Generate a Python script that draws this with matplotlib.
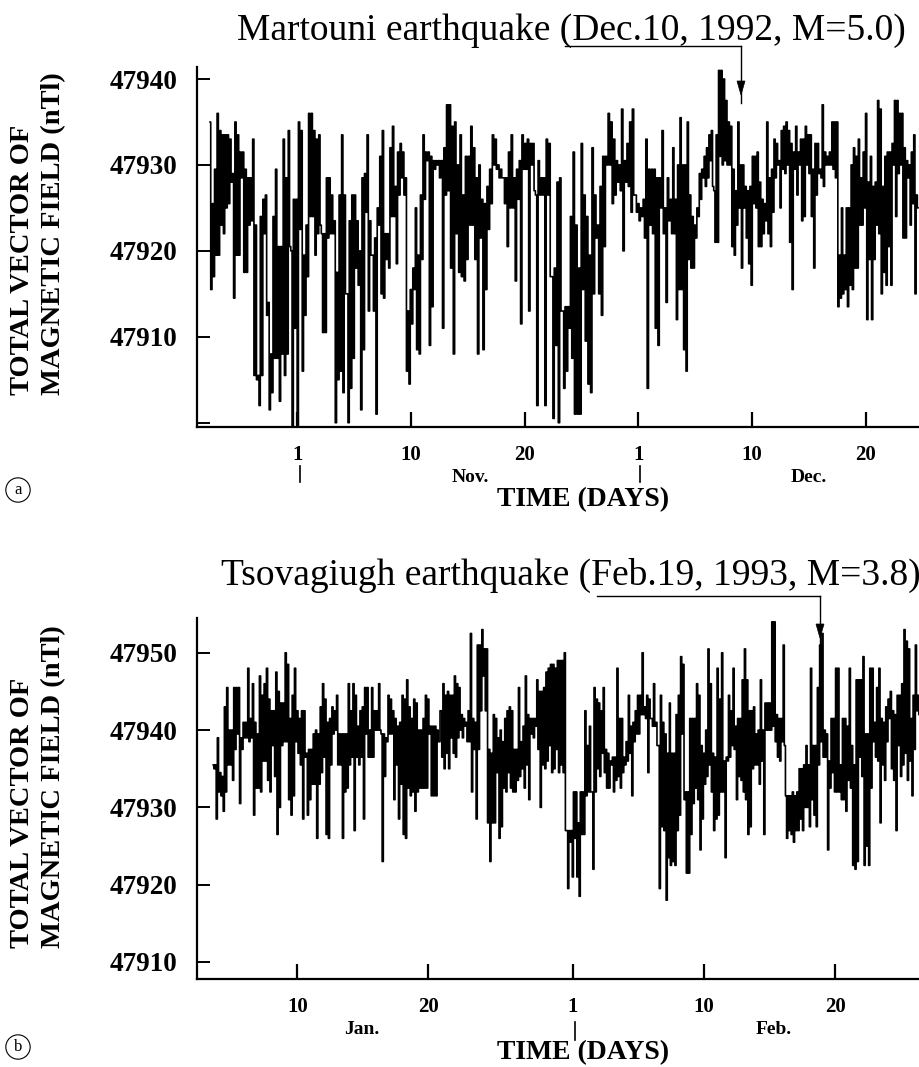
import numpy as np
import matplotlib.pyplot as plt
from matplotlib.lines import Line2D

W, H = 920, 1067

# ---- (a) Martouni, Nov-Dec 1992: (high, low) of the trace per ~6 h block ----
a_early = [
    (47935, 47915.5), (47925.5, 47917), (47929.5, 47919.5), (47936, 47919.5), (47934, 47923),
    (47933.5, 47922), (47933.5, 47925), (47933.5, 47925.5), (47933, 47928), (47929, 47914.5),
    (47935, 47919.5), (47933.5, 47919.5), (47931.5, 47928.5), (47931.5, 47917.5), (47929.5, 47917.5),
    (47928.5, 47923), (47928.5, 47923.5), (47933, 47905.5), (47923, 47905), (47905.5, 47902),
    (47924, 47905.5), (47926, 47922), (47926.5, 47912.5), (47914, 47901.5), (47908, 47903.5),
    (47924, 47907.5), (47929.5, 47907.5), (47920.5, 47902.5), (47920.5, 47908), (47933, 47905.5),
    (47928.5, 47908), (47934, 47920.5), (47920, 47899.5), (47926, 47911), (47926, 47899.5),
    (47935, 47922.5), (47934, 47906), (47919.5, 47912.5), (47923, 47917), (47936, 47924),
    (47936, 47924), (47934, 47919.5), (47933, 47922), (47933.5, 47923), (47922, 47910.5),
    (47922, 47910.5), (47928.5, 47921.5), (47928.5, 47922), (47926.5, 47922), (47923.5, 47900),
    (47917.5, 47905), (47926.5, 47906), (47933.5, 47903.5), (47926.5, 47915), (47915, 47900),
    (47923.5, 47904), (47926.5, 47907.5), (47926.5, 47918), (47923.5, 47916), (47920, 47901.5),
    (47928.5, 47908.5), (47929, 47924.5), (47933.5, 47913), (47923.5, 47919.5), (47919.5, 47913),
    (47921.5, 47901), (47925, 47923), (47931, 47915), (47934, 47914.5), (47922, 47919),
    (47922, 47918), (47932, 47924), (47934.5, 47924), (47927.5, 47918.5), (47931.5, 47926.5),
    (47932.5, 47928.5), (47931.5, 47926.5), (47928.5, 47906), (47913, 47904.5), (47915.5, 47911.5),
    (47918, 47915.5), (47925, 47908.5), (47919.5, 47908), (47926.5, 47919), (47933.5, 47926),
    (47931.5, 47930.5), (47931.5, 47909), (47931, 47913.5), (47930.5, 47929.5), (47930.5, 47930),
    (47930.5, 47928.5),
]
a_mid = [
    (47930.5, 47911), (47932, 47926.5), (47937, 47927), (47937, 47918), (47934.5, 47908),
    (47935, 47922), (47930, 47917.5), (47933.5, 47917), (47926.5, 47916.5), (47931, 47919),
    (47931, 47923), (47934.5, 47923), (47932, 47919), (47928.5, 47908), (47930, 47921.5),
    (47926, 47908.5), (47925.5, 47915.5), (47927.5, 47922.5), (47929.5, 47925.5), (47933.5, 47930),
    (47933, 47929.5), (47930, 47928.5), (47929.5, 47928.5), (47928.5, 47925.5), (47928.5, 47920.5),
    (47931.5, 47925), (47933.5, 47925), (47928.5, 47916.5), (47929.5, 47926), (47930.5, 47911.5),
    (47933.5, 47929.5), (47932.5, 47929.5), (47933, 47913), (47932.5, 47930), (47932.5, 47927),
    (47926.5, 47902), (47930.5, 47926.5), (47928.5, 47926.5), (47928.5, 47902), (47933, 47926.5),
    (47932.5, 47917), (47917, 47900.5), (47918, 47909), (47928, 47900), (47928.5, 47913),
    (47913, 47904), (47913.5, 47906), (47913.5, 47911), (47924, 47907.5), (47931.5, 47901),
    (47923, 47901), (47918, 47901), (47932.5, 47915.5), (47926.5, 47909.5), (47924, 47904.5),
    (47919.5, 47903.5), (47932, 47915), (47926.5, 47921.5), (47923, 47915), (47927.5, 47912.5),
    (47931, 47920.5), (47931, 47930), (47936, 47930), (47935, 47925.5), (47933, 47926.5),
    (47930.5, 47928), (47930, 47927), (47936.5, 47920), (47930.5, 47928), (47932.5, 47927.5),
    (47935, 47924.5), (47936.5, 47926.5), (47926.5, 47924.5), (47925.5, 47923.5), (47925, 47924),
    (47926, 47921.5), (47933, 47904), (47929.5, 47923), (47929.5, 47922), (47929.5, 47911),
    (47928.5, 47909), (47928.5, 47925), (47934, 47922), (47925, 47914), (47928.5, 47923.5),
]
a_late = [
    (47926, 47922), (47932, 47922), (47926, 47912), (47930, 47915.5), (47935.5, 47915.5),
    (47930, 47908.5), (47930, 47906), (47935, 47919), (47926.5, 47918), (47924, 47918),
    (47923, 47921.5), (47925, 47924), (47929, 47926), (47929.5, 47928.5), (47931, 47927.5),
    (47932, 47928.5), (47933.5, 47930.5), (47934, 47927.5), (47927, 47921), (47933.5, 47921),
    (47941, 47931), (47941, 47930), (47940, 47930.5), (47937.5, 47930), (47935, 47930),
    (47934.5, 47920.5), (47929.5, 47919.5), (47927, 47923), (47935, 47925), (47930, 47918),
    (47930, 47925), (47927.5, 47921.5), (47927, 47918.5), (47927.5, 47916), (47931, 47925.5),
    (47931, 47925), (47931.5, 47920.5), (47928, 47920.5), (47926, 47922), (47925.5, 47923.5),
    (47935, 47922), (47928.5, 47920.5), (47929.5, 47924.5), (47933, 47928.5), (47932.5, 47930),
    (47930.5, 47925), (47934, 47929.5), (47934.5, 47929), (47935, 47930), (47934, 47921),
    (47932.5, 47915.5), (47931.5, 47929.5), (47934.5, 47926.5), (47931.5, 47930), (47933, 47923.5),
    (47933, 47924), (47934.5, 47930), (47933.5, 47929), (47933.5, 47924), (47929.5, 47918),
    (47932.5, 47926.5), (47932.5, 47929), (47929.5, 47928.5), (47937, 47927.5), (47931.5, 47930),
    (47931, 47930), (47931.5, 47930), (47935, 47929.5), (47935, 47928.5), (47935, 47913.5),
    (47919.5, 47914.5), (47925, 47915), (47919.5, 47915.5), (47925, 47913.5), (47925, 47916),
    (47930, 47915.5), (47932, 47918), (47931, 47918), (47933, 47923), (47928.5, 47923),
    (47931.5, 47925), (47936, 47912), (47928, 47919), (47931, 47912), (47927.5, 47919),
    (47928, 47923), (47937.5, 47922), (47936.5, 47915), (47927.5, 47917.5), (47931, 47916),
    (47931.5, 47920.5), (47931.5, 47916), (47932.5, 47930), (47937.5, 47924), (47937.5, 47929),
    (47936, 47930), (47936, 47921.5), (47932, 47921.5), (47930.5, 47928.5), (47930, 47923),
    (47931.5, 47925.5), (47933.5, 47915), (47926.5, 47925),
]
# time span (days on the plotted scale) covered by each block list
a_spans = [(-7.65, 12.57), (12.72, 32.72), (32.86, 54.57)]

# ---- (b) Tsovagiugh, Jan-Feb 1993 ----
b_early = [
    (47935.5, 47935), (47935.5, 47928.5), (47939, 47932), (47934.5, 47931.5), (47934, 47929.5),
    (47943, 47932), (47945.5, 47935.5), (47940, 47935.5), (47940, 47933.5), (47945.5, 47937.5),
    (47945.5, 47939.5), (47945.5, 47930.5), (47939, 47937.5), (47941, 47939), (47941, 47939),
    (47948, 47938.5), (47941.5, 47939), (47946, 47929), (47941, 47932.5), (47939.5, 47932.5),
    (47947, 47932), (47944.5, 47936), (47946, 47936), (47948, 47933.5), (47944, 47932),
    (47942.5, 47938), (47942.5, 47934), (47947.5, 47926.5), (47945, 47930), (47943.5, 47938),
    (47943.5, 47938.5), (47950, 47938.5), (47948.5, 47931), (47941.5, 47929), (47944.5, 47931.5),
    (47948, 47938.5), (47942.5, 47937), (47941.5, 47935.5), (47942.5, 47928.5), (47942.5, 47936.5),
    (47937, 47929), (47937.5, 47931), (47937.5, 47933), (47939.5, 47933), (47940, 47926),
    (47939.5, 47933), (47943, 47934.5), (47946, 47936.5), (47944, 47926.5), (47941, 47926),
    (47941.5, 47935.5), (47943, 47939.5), (47942.5, 47940), (47944.5, 47935.5), (47939.5, 47935.5),
    (47939.5, 47926), (47939.5, 47932), (47939.5, 47932.5), (47946, 47935.5), (47942.5, 47936.5),
    (47946, 47927), (47944.5, 47936.5), (47940.5, 47935.5), (47942.5, 47936.5), (47943, 47928.5),
    (47945.5, 47939.5), (47945.5, 47936.5), (47940, 47936.5), (47945.5, 47936.5), (47942.5, 47940),
    (47942.5, 47940), (47946, 47940), (47939.5, 47923), (47939.5, 47934), (47939, 47938.5),
    (47944.5, 47939.5), (47944, 47939.5), (47942.5, 47931), (47941.5, 47935.5), (47940.5, 47928.5),
    (47941, 47933), (47944.5, 47926.5), (47944, 47926), (47946.5, 47932.5), (47943, 47931.5),
    (47941.5, 47932), (47944, 47929.5), (47943.5, 47932), (47940, 47932.5), (47940, 47932.5),
    (47941.5, 47932.5), (47944.5, 47932.5), (47944, 47939.5), (47940.5, 47931.5), (47940.5, 47931.5),
    (47940.5, 47931.5), (47940, 47938.5),
]
b_mid = [
    (47942.5, 47936.5), (47946, 47935), (47944.5, 47937), (47945, 47935), (47944.5, 47939),
    (47944.5, 47937), (47947, 47936.5), (47946, 47939), (47945.5, 47940), (47942, 47939),
    (47941.5, 47940.5), (47941, 47938.5), (47942.5, 47938.5), (47952.5, 47932), (47941.5, 47937.5),
    (47941, 47928.5), (47951, 47937.5), (47951, 47942.5), (47953, 47947), (47950.5, 47942.5),
    (47950.5, 47928), (47937.5, 47923), (47937, 47928), (47942, 47928), (47941.5, 47934.5),
    (47939, 47926), (47940, 47927.5), (47938.5, 47932.5), (47941.5, 47932), (47942.5, 47934.5),
    (47943, 47932.5), (47942.5, 47932), (47937.5, 47932), (47937.5, 47933.5), (47945.5, 47934),
    (47938.5, 47935), (47940.5, 47932.5), (47947, 47935.5), (47942, 47931), (47941.5, 47939.5),
    (47941.5, 47939), (47941.5, 47940.5), (47946.5, 47937.5), (47945, 47930), (47945, 47935.5),
    (47945.5, 47935), (47947.5, 47936), (47948, 47938), (47948.5, 47934.5), (47948.5, 47935),
    (47948, 47937.5), (47949, 47934.5), (47949, 47935.5), (47949, 47934.5), (47950, 47927),
    (47927, 47919.5), (47927, 47925.5), (47927, 47921), (47932, 47926), (47932, 47921),
    (47928, 47918.5), (47932, 47926.5), (47932, 47926.5), (47942.5, 47931.5), (47938, 47932),
    (47940.5, 47932), (47932, 47922), (47945.5, 47932), (47944, 47935), (47943.5, 47934),
    (47942.5, 47937), (47945.5, 47934.5), (47937.5, 47932.5), (47937, 47932.5), (47936, 47935.5),
    (47936.5, 47932), (47936.5, 47933.5), (47948, 47934), (47941.5, 47932.5), (47941.5, 47934.5),
    (47936.5, 47935.5), (47938.5, 47936), (47944.5, 47937), (47940.5, 47931.5), (47941, 47938.5),
    (47942.5, 47939.5), (47944.5, 47939.5), (47944.5, 47942), (47950, 47942), (47943, 47941.5),
    (47944.5, 47934.5), (47944, 47941.5), (47941.5, 47940.5), (47946, 47940.5), (47941, 47938),
    (47938, 47919.5), (47944.5, 47927.5), (47941, 47927), (47939.5, 47918), (47937, 47923.5),
]
b_late = [
    (47943.5, 47922.5), (47937, 47923), (47937, 47922.5), (47942, 47927), (47944.5, 47929),
    (47949.5, 47939.5), (47948.5, 47931), (47932, 47921.5), (47932, 47921.5), (47941.5, 47926.5),
    (47941.5, 47930.5), (47941.5, 47932.5), (47946, 47931), (47944.5, 47924.5), (47938, 47928.5),
    (47937, 47933), (47940, 47934), (47950.5, 47935.5), (47946, 47932), (47937, 47927),
    (47936.5, 47928.5), (47948, 47929), (47944, 47932), (47950, 47932), (47936, 47923.5),
    (47936.5, 47936), (47944.5, 47936.5), (47942.5, 47938), (47948, 47937.5), (47940.5, 47931),
    (47941.5, 47934), (47941.5, 47933.5), (47946.5, 47932), (47950.5, 47931), (47946.5, 47926.5),
    (47942.5, 47927.5), (47942.5, 47935), (47943, 47935.5), (47939.5, 47935.5), (47940, 47933),
    (47946.5, 47936), (47940, 47926.5), (47943.5, 47940), (47943.5, 47940), (47943.5, 47940),
    (47954, 47940.5), (47954, 47938.5), (47942, 47936.5), (47941.5, 47936), (47941.5, 47938.5),
    (47951, 47938), (47931.5, 47926), (47931.5, 47927), (47931.5, 47926.5), (47932, 47925.5),
    (47931.5, 47927), (47932, 47927), (47935, 47928.5), (47935, 47927), (47935.5, 47930),
    (47938, 47930), (47935.5, 47927.5), (47948, 47931), (47938, 47929), (47938, 47927.5),
    (47945.5, 47935.5), (47951, 47938.5), (47952.5, 47936.5), (47940, 47936.5), (47939.5, 47924.5),
    (47936, 47932.5), (47941.5, 47934.5), (47941.5, 47932), (47948, 47932), (47948, 47932),
    (47935.5, 47931), (47941.5, 47931), (47941.5, 47929.5), (47940.5, 47933.5), (47948, 47932.5),
    (47938, 47922.5), (47935.5, 47922), (47946.5, 47923), (47946.5, 47936.5), (47946.5, 47934),
    (47949.5, 47922.5), (47939.5, 47925), (47939.5, 47922.5), (47948, 47932.5), (47948, 47938.5),
    (47941, 47936.5), (47945.5, 47936), (47948, 47928), (47941.5, 47935.5), (47941, 47933.5),
    (47943, 47938.5), (47944, 47941.5), (47945, 47935), (47942.5, 47933.5), (47942, 47927),
    (47944.5, 47938), (47944.5, 47934), (47946, 47935.5), (47953, 47937), (47951.5, 47933.5),
    (47950.5, 47936), (47941.5, 47931.5), (47944.5, 47937.5), (47951, 47942.5), (47944.5, 47942),
]
b_spans = [(3.59, 20.79), (20.97, 38.34), (38.40, 57.43)]

a_ticks = [0, 10, 20, 30, 40, 50]
a_ticklabels = ['1', '10', '20', '1', '10', '20']
b_ticks = [10, 20, 31, 41, 51]
b_ticklabels = ['10', '20', '1', '10', '20']

SERIF = 'Liberation Serif'


def trace(blocks, spans):
    """Zig-zag each (high, low) block so the record renders as a dense trace."""
    ts, vs = [], []
    for chunk, (t0, t1) in zip(blocks, spans):
        n = len(chunk)
        t = np.linspace(t0, t1, 2 * n)
        v = np.array(chunk).ravel()
        ts.append(t)
        vs.append(v)
    return np.concatenate(ts), np.concatenate(vs)


def fx(px):
    return px / W


def fy(py):
    return 1 - py / H


def style_axes(ax, yticks, ylabels, xticks, xlabels):
    for side in ('top', 'right'):
        ax.spines[side].set_visible(False)
    for side in ('left', 'bottom'):
        ax.spines[side].set_linewidth(1.6)
    ax.set_yticks(yticks)
    ax.set_yticklabels(ylabels, fontfamily=SERIF, fontweight='bold', fontsize=19.5)
    ax.set_xticks(xticks)
    ax.set_xticklabels(xlabels, fontfamily=SERIF, fontweight='bold', fontsize=15)
    ax.tick_params(axis='y', direction='in', length=9, width=1.4, pad=14)
    ax.tick_params(axis='x', direction='in', length=11, width=1.6, pad=13)


def event_marker(title, title_y, line_x0, line_x1, line_y, tip_y):
    fig.text(fx(571), fy(title_y), title, fontfamily=SERIF, fontsize=27,
             ha='center', va='center')
    fig.add_artist(Line2D([fx(line_x0), fx(line_x1)], [fy(line_y), fy(line_y)],
                          color='black', lw=1.0))
    fig.add_artist(Line2D([fx(line_x1), fx(line_x1)], [fy(line_y), fy(tip_y + 8)],
                          color='black', lw=1.0))
    fig.patches.append(plt.Polygon(
        [[fx(line_x1 - 4), fy(tip_y - 14)], [fx(line_x1 + 4), fy(tip_y - 14)],
         [fx(line_x1), fy(tip_y)]], closed=True, transform=fig.transFigure,
        facecolor='black', edgecolor='black', lw=0.5))


def day_axis_labels(num_y, bar_x, bar_y0, bar_y1, months, time_y, letter, letter_y):
    fig.add_artist(Line2D([fx(bar_x), fx(bar_x)], [fy(bar_y0), fy(bar_y1)],
                          color='black', lw=1.2))
    for name, mx in months:
        fig.text(fx(mx), fy(num_y), name, fontfamily=SERIF, fontweight='bold',
                 fontsize=14, ha='center', va='center')
    fig.text(fx(583), fy(time_y), 'TIME (DAYS)', fontfamily=SERIF,
             fontweight='bold', fontsize=20, ha='center', va='center')
    fig.text(fx(18), fy(letter_y), letter, fontfamily=SERIF, fontsize=12,
             ha='center', va='center',
             bbox=dict(boxstyle='circle,pad=0.25', fc='white', ec='black', lw=0.8))


def y_title(cy):
    fig.text(fx(38), fy(cy), 'TOTAL VECTOR OF\nMAGNETIC FIELD (nTl)', rotation=90,
             fontfamily=SERIF, fontweight='bold', fontsize=20.5, ha='center',
             va='center', multialignment='left', linespacing=1.3)


fig = plt.figure(figsize=(W / 100, H / 100), dpi=100)

# panel (a)
ax_a = fig.add_axes([fx(197), fy(427), 1 - fx(197), (427 - 67) / H])
ta, va = trace([a_early, a_mid, a_late], a_spans)
ax_a.plot(ta, va, drawstyle='steps-mid', color='black', lw=1.2)
ax_a.set_xlim(-8.8, 54.75)
ax_a.set_ylim(47899.5, 47941.4)
style_axes(ax_a, [47900, 47910, 47920, 47930, 47940],
           ['', '47910', '47920', '47930', '47940'], a_ticks, a_ticklabels)
event_marker('Martouni earthquake (Dec.10, 1992, M=5.0)', 31, 565, 741, 46, 95)
fig.add_artist(Line2D([fx(300), fx(300)], [fy(466), fy(482)], color='black', lw=1.2))
day_axis_labels(478, 640, 466, 482, [('Nov.', 470), ('Dec.', 809)], 500, 'a', 490)
y_title(234)

# panel (b)
ax_b = fig.add_axes([fx(197), fy(979), 1 - fx(197), (979 - 618) / H])
tb, vb = trace([b_early, b_mid, b_late], b_spans)
ax_b.plot(tb, vb, drawstyle='steps-mid', color='black', lw=1.2)
ax_b.set_xlim(2.35, 57.48)
ax_b.set_ylim(47907.8, 47954.5)
style_axes(ax_b, [47910, 47920, 47930, 47940, 47950],
           ['47910', '47920', '47930', '47940', '47950'], b_ticks, b_ticklabels)
event_marker('Tsovagiugh earthquake (Feb.19, 1993, M=3.8)', 575, 597, 820, 596, 638)
day_axis_labels(1030, 575, 1022, 1040, [('Jan.', 362), ('Feb.', 774)], 1053, 'b', 1047)
y_title(787)

fig.savefig('out.png', dpi=100)
